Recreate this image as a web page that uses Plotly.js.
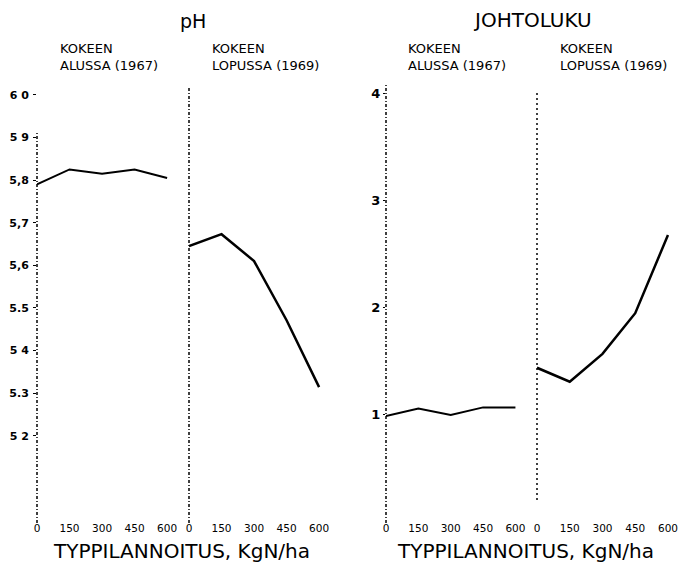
<!DOCTYPE html>
<html>
<head>
<meta charset="utf-8">
<script src="https://cdn.plot.ly/plotly-3.0.1.min.js"></script>
<style>html,body{margin:0;padding:0;background:#fff;}#chart{width:685px;height:563px;}</style>
</head>
<body>
<div id="chart"></div>
<script>
// ---- data ----
var nitrogen = [0, 150, 300, 450, 600];
var nitrogenLabels = ["0", "150", "300", "450", "600"];
var phStart = [5.79, 5.825, 5.815, 5.825, 5.805];
var phEnd = [5.645, 5.673, 5.61, 5.471, 5.314];
var condStart = [0.99, 1.06, 1.0, 1.07, 1.07];
var condEnd = [1.44, 1.31, 1.57, 1.95, 2.68];
var phTicks = [6.0, 5.9, 5.8, 5.7, 5.6, 5.5, 5.4, 5.3, 5.2];
var phTickLabels = ["6 0", "5 9", "5,8", "5,7", "5,6", "5.5", "5 4", "5.3", "5 2"];
var condTicks = [1, 2, 3, 4];
var condTickLabels = ["1", "2", "3", "4"];

var W = 685, H = 563;
function px(x){ return x / W; }
function py(y){ return 1 - y / H; }

var FONT = "DejaVu Sans, Arial, sans-serif";
var lineStyle = {color: "#000", width: 2};
var lineStyle2 = {color: "#000", width: 2.5};

var traces = [
  {x: nitrogen, y: phStart, xaxis: "x", yaxis: "y", mode: "lines", line: lineStyle, hoverinfo: "skip"},
  {x: nitrogen, y: phEnd, xaxis: "x2", yaxis: "y", mode: "lines", line: lineStyle2, hoverinfo: "skip"},
  {x: nitrogen, y: condStart, xaxis: "x3", yaxis: "y2", mode: "lines", line: lineStyle, hoverinfo: "skip"},
  {x: nitrogen, y: condEnd, xaxis: "x4", yaxis: "y2", mode: "lines", line: lineStyle2, hoverinfo: "skip"}
];

var yDom = [py(520), py(83)];
function xax(d0, d1, r1, anchor){
  return {
    domain: [px(d0), px(d1)], range: [0, r1], anchor: anchor,
    tickvals: nitrogen, ticktext: nitrogenLabels,
    showgrid: false, zeroline: false, showline: false, ticks: "",
    tickfont: {family: FONT, size: 10.5, color: "#000"}, fixedrange: true
  };
}

var layout = {
  width: W, height: H,
  margin: {l: 0, r: 0, t: 0, b: 0},
  paper_bgcolor: "#fff", plot_bgcolor: "rgba(0,0,0,0)",
  showlegend: false,
  xaxis: xax(37, 189, 701, "y"),
  xaxis2: xax(189, 341, 701, "y"),
  xaxis3: xax(386, 537, 700, "y2"),
  xaxis4: xax(537, 685, 678, "y2"),
  yaxis: {
    domain: yDom, range: [5.002, 6.028], anchor: "x",
    tickvals: phTicks, ticktext: phTickLabels,
    showgrid: false, zeroline: false, showline: false,
    ticks: "outside", ticklen: 3, tickcolor: "#000", tickwidth: 1,
    ticklabelstandoff: 2,
    tickfont: {family: FONT, size: 11, color: "#000", weight: "bold"}
  },
  yaxis2: {
    domain: yDom, range: [0.018, 4.1], anchor: "x3",
    tickvals: condTicks, ticktext: condTickLabels,
    showgrid: false, zeroline: false, showline: false,
    ticks: "outside", ticklen: 2, tickcolor: "#000", tickwidth: 1,
    ticklabelstandoff: 0,
    tickfont: {family: FONT, size: 13, color: "#000", weight: "bold"}
  },
  shapes: [
    {type: "line", xref: "paper", yref: "paper", x0: px(37), x1: px(37), y0: py(523), y1: py(132), line: {color: "#000", width: 1.5, dash: "3px,2px,1px,2px"}},
    {type: "line", xref: "paper", yref: "paper", x0: px(189), x1: px(189), y0: py(523), y1: py(88), line: {color: "#000", width: 1.5, dash: "3px,2px,1px,2px"}},
    {type: "line", xref: "paper", yref: "paper", x0: px(386), x1: px(386), y0: py(523), y1: py(83), line: {color: "#000", width: 1.5, dash: "3px,2px,1px,2px"}},
    {type: "line", xref: "paper", yref: "paper", x0: px(537), x1: px(537), y0: py(500), y1: py(93), line: {color: "#000", width: 1.5, dash: "2px,3px"}}
  ],
  annotations: [
    {text: "pH", xref: "paper", yref: "paper", x: px(193), y: py(21), showarrow: false, xanchor: "center", yanchor: "middle", font: {family: FONT, size: 19, color: "#000"}},
    {text: "JOHTOLUKU", xref: "paper", yref: "paper", x: px(532), y: py(20), showarrow: false, xanchor: "center", yanchor: "middle", font: {family: FONT, size: 20, color: "#000"}},
    {text: "KOKEEN<br>ALUSSA (1967)", xref: "paper", yref: "paper", x: px(58), y: py(39), showarrow: false, xanchor: "left", yanchor: "top", align: "left", font: {family: FONT, size: 13, color: "#000"}},
    {text: "KOKEEN<br>LOPUSSA (1969)", xref: "paper", yref: "paper", x: px(210), y: py(39), showarrow: false, xanchor: "left", yanchor: "top", align: "left", font: {family: FONT, size: 13, color: "#000"}},
    {text: "KOKEEN<br>ALUSSA (1967)", xref: "paper", yref: "paper", x: px(406), y: py(39), showarrow: false, xanchor: "left", yanchor: "top", align: "left", font: {family: FONT, size: 13, color: "#000"}},
    {text: "KOKEEN<br>LOPUSSA (1969)", xref: "paper", yref: "paper", x: px(558), y: py(39), showarrow: false, xanchor: "left", yanchor: "top", align: "left", font: {family: FONT, size: 13, color: "#000"}},
    {text: "TYPPILANNOITUS, KgN/ha", xref: "paper", yref: "paper", x: px(181), y: py(551), showarrow: false, borderpad: 0, xanchor: "center", yanchor: "middle", font: {family: FONT, size: 20, color: "#000"}},
    {text: "TYPPILANNOITUS, KgN/ha", xref: "paper", yref: "paper", x: px(525), y: py(551), showarrow: false, borderpad: 0, xanchor: "center", yanchor: "middle", font: {family: FONT, size: 20, color: "#000"}}
  ]
};

Plotly.newPlot("chart", traces, layout, {staticPlot: true, displayModeBar: false});
</script>
</body>
</html>
